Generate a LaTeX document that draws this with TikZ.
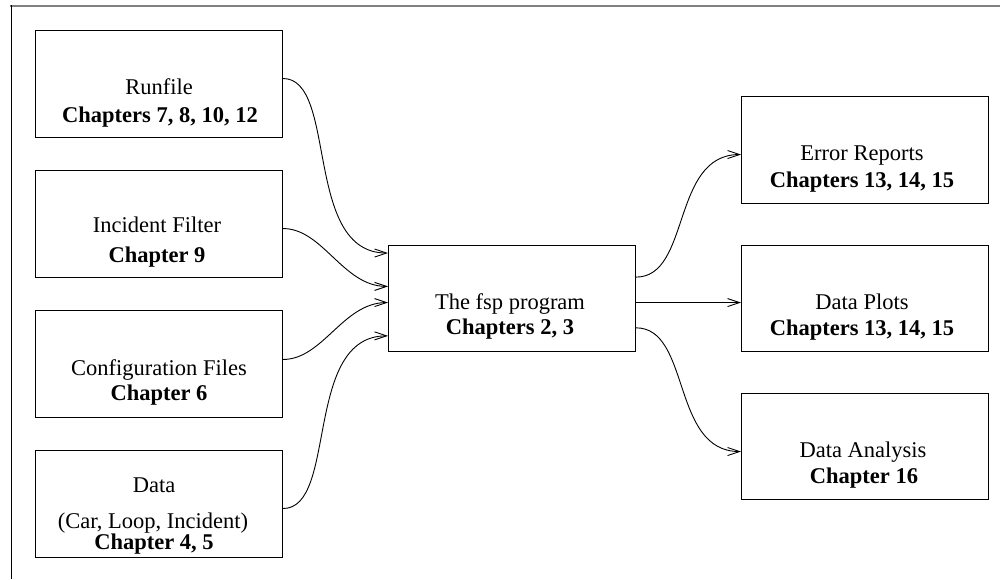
\documentclass[tikz,border=0pt]{standalone}
\usepackage{fontspec}
\setmainfont{Liberation Serif}
\usetikzlibrary{arrows.meta,calc}
\begin{document}
\begin{tikzpicture}[x=1pt,y=-1pt,
  box/.style={draw,line width=1pt,minimum width=247pt,minimum height=107pt,inner sep=0pt,anchor=north west},
  lbl/.style={anchor=base,inner sep=0pt,font=\fontsize{22.5}{26}\selectfont},
  blbl/.style={anchor=base,inner sep=0pt,font=\fontsize{22.5}{26}\selectfont\bfseries},
  link/.style={line width=0.9pt,-{Straight Barb[length=12pt,width=8pt,line width=0.9pt]}},
]
\useasboundingbox (0,0) rectangle (1000,579);

% page frame (top and left edges)
\draw[gray,line width=2pt] (10,5.5) -- (1000,5.5);
\draw[line width=1pt] (11,5) -- (11,579);

% input boxes
\node[box] (runfile)  at (35,30)  {};
\node[box] (filter)   at (35,170) {};
\node[box] (config)   at (35,310) {};
\node[box] (data)     at (35,450) {};
% central program
\node[box,minimum height=106pt] (fsp) at (388,245) {};
% outputs
\node[box] (errors)   at (741,96)  {};
\node[box,minimum height=106pt] (plots) at (741,245) {};
\node[box,minimum height=106pt] (analysis) at (741,393) {};

% labels
\node[lbl]  (runfileA)  at (159,94)  {Runfile};
\node[blbl] (runfileB)  at (160,122) {Chapters 7, 8, 10, 12};
\node[lbl]  (filterA)   at (157,232) {Incident Filter};
\node[blbl] (filterB)   at (157,262) {Chapter 9};
\node[lbl]  (configA)   at (159,375) {Configuration Files};
\node[blbl] (configB)   at (159,400) {Chapter 6};
\node[lbl]  (dataA)     at (154,492) {Data};
\node[lbl]  (dataB)     at (153,528) {(Car, Loop, Incident)};
\node[blbl] (dataC)     at (154,549) {Chapter 4, 5};
\node[lbl]  (fspA)      at (510,309) {The fsp program};
\node[blbl] (fspB)      at (510,334) {Chapters 2, 3};
\node[lbl]  (errorsA)   at (862,160) {Error Reports};
\node[blbl] (errorsB)   at (862,187) {Chapters 13, 14, 15};
\node[lbl]  (plotsA)    at (862,309) {Data Plots};
\node[blbl] (plotsB)    at (862,335) {Chapters 13, 14, 15};
\node[lbl]  (analysisA) at (863,457) {Data Analysis};
\node[blbl] (analysisB) at (864,483) {Chapter 16};

% inputs into the program
\draw[link] ($(runfile.north east)!0.449!(runfile.south east)$)
  .. controls +(55,0) and +(-85,0) .. ($(fsp.north west)!0.075!(fsp.south west)$);
\draw[link] ($(filter.north east)!0.542!(filter.south east)$)
  .. controls +(40,0) and +(-45,0) .. ($(fsp.north west)!0.387!(fsp.south west)$);
\draw[link] ($(config.north east)!0.458!(config.south east)$)
  .. controls +(40,0) and +(-45,0) .. ($(fsp.north west)!0.538!(fsp.south west)$);
\draw[link] ($(data.north east)!0.542!(data.south east)$)
  .. controls +(55,0) and +(-85,0) .. ($(fsp.north west)!0.849!(fsp.south west)$);

% program outputs
\draw[link] ($(fsp.north east)!0.30!(fsp.south east)$)
  .. controls +(55,0) and +(-70,0) .. ($(errors.north west)!0.542!(errors.south west)$);
\draw[link] ($(fsp.north east)!0.538!(fsp.south east)$)
  -- ($(plots.north west)!0.538!(plots.south west)$);
\draw[link] ($(fsp.north east)!0.774!(fsp.south east)$)
  .. controls +(55,0) and +(-70,0) .. ($(analysis.north west)!0.547!(analysis.south west)$);
\end{tikzpicture}
\end{document}
